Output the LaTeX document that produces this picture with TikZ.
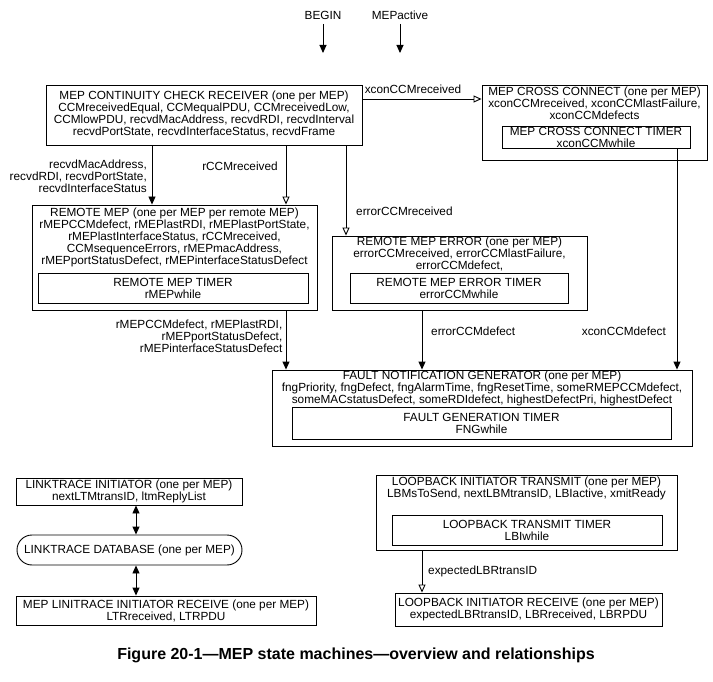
\documentclass[tikz,border=0pt]{standalone}
\usepackage{fontspec}
\setmainfont{Liberation Sans}
\usetikzlibrary{arrows.meta,fit}
\begin{document}
\begin{tikzpicture}[x=1pt,y=-1pt,
  every node/.style={font=\fontsize{11.8}{12}\selectfont, inner sep=0pt},
  box/.style={draw, line width=0.9pt, inner sep=0pt},
  txt/.style={align=center},
  farrow/.style={line width=0.9pt, -{Triangle[width=7pt,length=8pt]}},
  oarrow/.style={line width=0.9pt, -{Triangle[open,width=7pt,length=8pt]}},
  darrow/.style={line width=0.9pt, {Triangle[width=7pt,length=8pt]}-{Triangle[width=7pt,length=8pt]}}]
\useasboundingbox (0,0) rectangle (713,682);

% inputs
\node (begin) at (323,15) {BEGIN};
\node (mepactive) at (400,15) {MEPactive};
\coordinate (beginend) at (323,53);
\coordinate (mepend) at (400,53);
\draw[farrow] (323,24) -- (beginend);
\draw[farrow] (400,24) -- (mepend);

% continuity check receiver
\node[box, fit={(46,85) (362,145)}] (ccm) {};
\node[txt] (ccmt) at (204,114) {MEP CONTINUITY CHECK RECEIVER (one per MEP)\\CCMreceivedEqual, CCMequalPDU, CCMreceivedLow,\\CCMlowPDU, recvdMacAddress, recvdRDI, recvdInterval\\recvdPortState, recvdInterfaceStatus, recvdFrame};

% cross connect
\node[box, fit={(482,85) (707,160)}] (xc) {};
\node[txt] (xct) at (594.5,103.5) {MEP CROSS CONNECT (one per MEP)\\xconCCMreceived, xconCCMlastFailure,\\xconCCMdefects};
\node[box, fit={(502,126) (690,148)}] (xctimer) {};
\node[txt] (xctimert) at (xctimer.center) {MEP CROSS CONNECT TIMER\\xconCCMwhile};

% remote MEP
\node[box, fit={(32,205) (317,310)}] (rm) {};
\node[txt] (rmt) at (174.5,237.5) {REMOTE MEP (one per MEP per remote MEP)\\rMEPCCMdefect, rMEPlastRDI, rMEPlastPortState,\\rMEPlastInterfaceStatus, rCCMreceived,\\CCMsequenceErrors, rMEPmacAddress,\\rMEPportStatusDefect, rMEPinterfaceStatusDefect};
\node[box, fit={(38,273) (308,303)}] (rmtimer) {};
\node[txt] (rmtimert) at (rmtimer.center) {REMOTE MEP TIMER\\rMEPwhile};

% remote MEP error
\node[box, fit={(332,236) (587,310)}] (rme) {};
\node[txt] (rmet) at (459.5,254) {REMOTE MEP ERROR (one per MEP)\\errorCCMreceived, errorCCMlastFailure,\\errorCCMdefect,};
\node[box, fit={(350,273) (568,303)}] (rmetimer) {};
\node[txt] (rmetimert) at (rmetimer.center) {REMOTE MEP ERROR TIMER\\errorCCMwhile};

% fault notification generator
\node[box, fit={(272,370) (692,446)}] (fng) {};
\node[txt] (fngt) at (482,388.5) {FAULT NOTIFICATION GENERATOR (one per MEP)\\fngPriority, fngDefect, fngAlarmTime, fngResetTime, someRMEPCCMdefect,\\someMACstatusDefect, someRDIdefect, highestDefectPri, highestDefect};
\node[box, fit={(292,407) (671,439)}] (fngtimer) {};
\node[txt] (fngtimert) at (fngtimer.center) {FAULT GENERATION TIMER\\FNGwhile};

% connectors top part
\draw[oarrow] (ccm.east |- 0,99) -- (xc.west |- 0,99);
\node (lxr) at (413,89) {xconCCMreceived};

\draw[farrow] (ccm.south -| 152,0) -- (rm.north -| 152,0);
\node[align=right, anchor=east] (lrecvd) at (147,176.5) {recvdMacAddress,\\recvdRDI, recvdPortState,\\recvdInterfaceStatus};

\draw[oarrow] (ccm.south -| 286,0) -- (rm.north -| 286,0);
\node (lrcc) at (240,166) {rCCMreceived};

\draw[oarrow] (ccm.south -| 346,0) -- (rme.north -| 346,0);
\node[anchor=west] (lerr) at (356,211) {errorCCMreceived};

\draw[farrow] (rm.south -| 286,0) -- (fng.north -| 286,0);
\node[align=right, anchor=east] (lrmep) at (282.5,336) {rMEPCCMdefect, rMEPlastRDI,\\rMEPportStatusDefect,\\rMEPinterfaceStatusDefect};

\draw[farrow] (rme.south -| 422,0) -- (fng.north -| 422,0);
\node[anchor=west] (lerrd) at (431,331) {errorCCMdefect};

\draw[farrow] (xctimer.south -| 677,0) -- (fng.north -| 677,0);
\node[anchor=east] (lxcd) at (666,331) {xconCCMdefect};

% linktrace
\node[box, fit={(16,478) (242,505)}] (lti) {};
\node[txt] (ltit) at (lti.center) {LINKTRACE INITIATOR (one per MEP)\\nextLTMtransID, ltmReplyList};
\node[box, rounded corners=15pt, fit={(17,535) (242,565)}] (ltdb) {};
\node (ltdbt) at (ltdb.center) {LINKTRACE DATABASE (one per MEP)};
\node[box, fit={(16,596) (316,625)}] (ltr) {};
\node[txt] (ltrt) at (ltr.center) {MEP LINITRACE INITIATOR RECEIVE (one per MEP)\\LTRreceived, LTRPDU};
\draw[darrow] (lti.south -| 136,0) -- (ltdb.north -| 136,0);
\draw[darrow] (ltdb.south -| 136,0) -- (ltr.north -| 136,0);

% loopback
\node[box, fit={(376,475) (677,550)}] (lbt) {};
\node[txt] (lbtt) at (526.5,488.5) {LOOPBACK INITIATOR TRANSMIT (one per MEP)\\LBMsToSend, nextLBMtransID, LBIactive, xmitReady};
\node[box, fit={(392,515) (662,545)}] (lbttimer) {};
\node[txt] (lbttimert) at (lbttimer.center) {LOOPBACK TRANSMIT TIMER\\LBIwhile};
\node[box, fit={(395,593) (662,626)}] (lbr) {};
\node[txt] (lbrt) at (lbr.center) {LOOPBACK INITIATOR RECEIVE (one per MEP)\\expectedLBRtransID, LBRreceived, LBRPDU};
\draw[oarrow] (lbt.south -| 422,0) -- (lbr.north -| 422,0);
\node[anchor=west] (lexp) at (428,571) {expectedLBRtransID};

% caption
\node[font=\bfseries\fontsize{16}{18}\selectfont] (cap) at (356,655) {Figure 20-1—MEP state machines—overview and relationships};
\end{tikzpicture}
\end{document}
